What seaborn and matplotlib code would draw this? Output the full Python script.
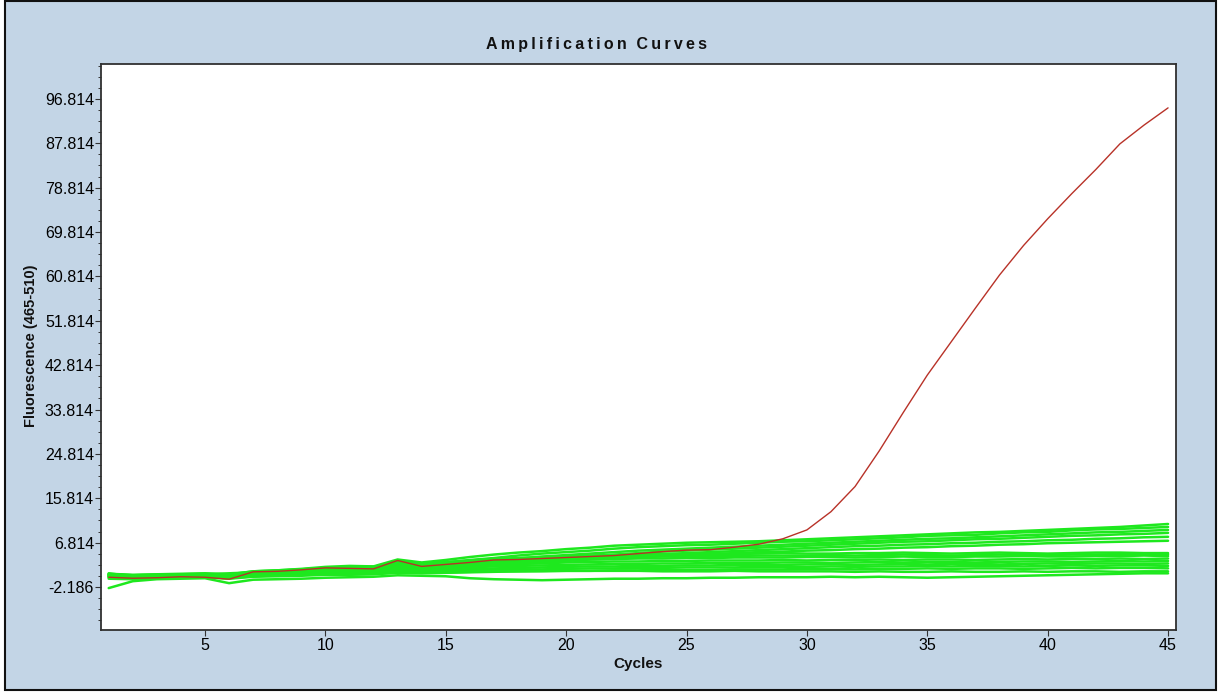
import numpy as np
import pandas as pd
import matplotlib
matplotlib.use("Agg")
import matplotlib.pyplot as plt
from matplotlib.patches import Rectangle
from matplotlib.ticker import FixedLocator
import seaborn as sns

# ---------------- data ----------------
cycles = list(range(1, 46))

red_curve = [-0.2, -0.4, -0.3, -0.1, -0.2, -0.6, 0.9, 1.0, 1.3, 1.7, 1.6, 1.5, 3.2, 2.0, 2.4,
             2.8, 3.3, 3.4, 3.6, 3.8, 4.0, 4.2, 4.6, 5.0, 5.3, 5.4, 5.9, 6.5, 7.6, 9.4,
             13.1, 18.2, 25.4, 33.2, 40.8, 47.6, 54.4, 61.1, 67.1, 72.5, 77.6, 82.5, 87.7, 91.5, 95.0]

green_U1 = [0.4, 0.2, 0.3, 0.4, 0.5, 0.3, 1.0, 1.2, 1.5, 1.9, 2.1, 2.0, 3.4, 2.8, 3.3,
            3.9, 4.4, 4.8, 5.1, 5.5, 5.8, 6.2, 6.4, 6.6, 6.8, 6.9, 7.0, 7.1, 7.3, 7.5,
            7.7, 7.9, 8.1, 8.3, 8.5, 8.7, 8.9, 9.0, 9.2, 9.4, 9.6, 9.8, 10.0, 10.3, 10.6]
green_U2 = [0.6, 0.0, 0.2, 0.3, 0.4, 0.6, 0.8, 1.1, 1.4, 1.6, 1.8, 1.9, 2.9, 2.4, 2.8,
            3.3, 3.7, 4.2, 4.6, 4.9, 5.2, 5.6, 5.9, 6.1, 6.3, 6.4, 6.6, 6.8, 7.0, 7.1,
            7.3, 7.5, 7.7, 7.9, 8.2, 8.3, 8.4, 8.7, 8.9, 9.0, 9.3, 9.5, 9.6, 9.8, 10.0]
green_U3 = [0.0, 0.1, 0.2, 0.2, 0.3, 0.1, 0.6, 0.9, 1.1, 1.4, 1.5, 1.7, 2.5, 2.2, 2.5,
            2.9, 3.3, 3.6, 4.0, 4.3, 4.6, 4.9, 5.2, 5.4, 5.6, 5.8, 6.0, 6.2, 6.4, 6.6,
            6.8, 7.0, 7.2, 7.4, 7.6, 7.7, 7.9, 8.1, 8.3, 8.5, 8.7, 8.9, 9.0, 9.2, 9.4]
green_U4 = [0.3, 0.1, 0.0, 0.2, 0.1, 0.0, 0.5, 0.7, 0.9, 1.2, 1.3, 1.4, 2.2, 1.9, 2.2,
            2.6, 2.9, 3.2, 3.5, 3.8, 4.1, 4.4, 4.7, 5.0, 5.2, 5.4, 5.6, 5.8, 6.0, 6.2,
            6.4, 6.6, 6.8, 7.0, 7.1, 7.3, 7.5, 7.6, 7.8, 8.0, 8.2, 8.3, 8.5, 8.6, 8.8]
green_U5 = [-0.2, -0.1, 0.0, 0.1, 0.0, -0.2, 0.4, 0.6, 0.8, 1.0, 1.1, 1.2, 1.9, 1.6, 1.9,
            2.2, 2.5, 2.8, 3.1, 3.4, 3.7, 4.0, 4.3, 4.5, 4.7, 4.9, 5.1, 5.3, 5.5, 5.7,
            5.9, 6.1, 6.2, 6.4, 6.5, 6.7, 6.8, 7.0, 7.1, 7.3, 7.4, 7.6, 7.7, 7.9, 8.0]
green_U6 = [0.1, -0.1, -0.2, 0.0, 0.1, -0.1, 0.3, 0.5, 0.7, 0.9, 0.9, 1.0, 1.7, 1.4, 1.6,
            1.9, 2.2, 2.5, 2.8, 3.1, 3.4, 3.6, 3.9, 4.1, 4.3, 4.5, 4.7, 4.9, 5.0, 5.2,
            5.3, 5.5, 5.6, 5.8, 5.9, 6.1, 6.2, 6.4, 6.5, 6.7, 6.8, 6.9, 7.0, 7.1, 7.2]
green_L1 = [0.5, 0.3, 0.4, 0.5, 0.6, 0.4, 1.0, 1.2, 1.4, 1.7, 1.9, 1.9, 3.0, 2.6, 2.9,
            3.2, 3.5, 3.7, 3.9, 4.1, 4.2, 4.3, 4.4, 4.5, 4.5, 4.6, 4.5, 4.6, 4.7, 4.6,
            4.6, 4.7, 4.7, 4.8, 4.7, 4.6, 4.7, 4.8, 4.7, 4.6, 4.7, 4.8, 4.8, 4.7, 4.7]
green_L2 = [0.2, 0.0, 0.1, 0.2, 0.3, 0.1, 0.7, 0.9, 1.1, 1.3, 1.5, 1.5, 2.4, 2.1, 2.3,
            2.6, 2.8, 3.0, 3.2, 3.3, 3.4, 3.5, 3.6, 3.6, 3.7, 3.7, 3.8, 3.8, 3.8, 3.9,
            3.9, 3.8, 3.9, 4.0, 3.9, 3.9, 4.0, 4.0, 4.1, 4.0, 4.0, 4.1, 4.1, 4.2, 4.1]
green_L3 = [0.0, -0.2, -0.1, 0.0, 0.1, -0.1, 0.4, 0.6, 0.8, 1.0, 1.1, 1.2, 1.9, 1.7, 1.9,
            2.1, 2.3, 2.5, 2.6, 2.8, 2.9, 3.0, 3.0, 3.1, 3.1, 3.2, 3.2, 3.2, 3.3, 3.2,
            3.3, 3.3, 3.4, 3.3, 3.4, 3.4, 3.3, 3.4, 3.5, 3.4, 3.5, 3.5, 3.6, 3.5, 3.6]
green_L4 = [0.3, 0.1, 0.0, 0.1, 0.2, 0.0, 0.3, 0.5, 0.6, 0.8, 0.9, 1.0, 1.6, 1.4, 1.6,
            1.8, 2.0, 2.1, 2.2, 2.3, 2.4, 2.5, 2.5, 2.6, 2.6, 2.7, 2.7, 2.7, 2.8, 2.8,
            2.7, 2.8, 2.9, 2.8, 2.9, 2.9, 2.8, 2.9, 3.0, 3.0, 2.9, 3.0, 3.1, 3.0, 3.1]
green_L5 = [-0.3, -0.4, -0.2, -0.1, 0.0, -0.3, 0.2, 0.3, 0.5, 0.6, 0.7, 0.8, 1.3, 1.1, 1.3,
            1.5, 1.6, 1.7, 1.8, 1.9, 2.0, 2.0, 2.1, 2.1, 2.2, 2.2, 2.3, 2.3, 2.3, 2.4,
            2.4, 2.3, 2.4, 2.5, 2.4, 2.5, 2.5, 2.4, 2.5, 2.6, 2.5, 2.6, 2.6, 2.5, 2.6]
green_L6 = [0.1, -0.1, -0.2, -0.1, -0.2, -0.4, 0.0, 0.2, 0.3, 0.5, 0.5, 0.6, 1.0, 0.9, 1.0,
            1.2, 1.3, 1.4, 1.4, 1.5, 1.6, 1.6, 1.7, 1.7, 1.8, 1.8, 1.8, 1.9, 1.9, 1.9,
            2.0, 1.9, 2.0, 2.0, 2.1, 2.0, 2.1, 2.1, 2.0, 2.1, 2.2, 2.1, 2.2, 2.2, 2.1]
green_L7 = [-0.5, -0.6, -0.4, -0.3, -0.2, -0.5, -0.1, 0.0, 0.1, 0.3, 0.3, 0.4, 0.7, 0.6, 0.7,
            0.8, 0.9, 1.0, 1.0, 1.1, 1.1, 1.2, 1.2, 1.3, 1.3, 1.3, 1.4, 1.4, 1.4, 1.5,
            1.5, 1.4, 1.5, 1.5, 1.6, 1.5, 1.6, 1.6, 1.5, 1.6, 1.7, 1.6, 1.7, 1.7, 1.6]
green_L8 = [-2.4, -1.0, -0.6, -0.5, -0.4, -1.4, -0.7, -0.6, -0.5, -0.3, -0.2, -0.1, 0.2, 0.1, 0.0,
            -0.4, -0.6, -0.7, -0.8, -0.7, -0.6, -0.5, -0.5, -0.4, -0.4, -0.3, -0.3, -0.2, -0.2, -0.2,
            -0.1, -0.2, -0.1, -0.2, -0.3, -0.2, -0.1, 0.0, 0.1, 0.2, 0.3, 0.4, 0.5, 0.6, 0.6]
green_L9 = [0.4, 0.2, 0.3, 0.4, 0.4, 0.2, 0.8, 1.0, 1.2, 1.5, 1.7, 1.7, 2.7, 2.3, 2.6,
            2.9, 3.1, 3.3, 3.5, 3.6, 3.7, 3.8, 3.9, 4.0, 4.0, 4.1, 4.1, 4.2, 4.2, 4.2,
            4.3, 4.2, 4.3, 4.4, 4.3, 4.2, 4.3, 4.4, 4.3, 4.3, 4.4, 4.4, 4.5, 4.4, 4.4]
green_L10 = [-0.1, -0.3, -0.3, -0.2, -0.1, -0.3, 0.1, 0.2, 0.3, 0.4, 0.4, 0.5, 0.8, 0.7, 0.8,
             0.9, 1.0, 1.0, 1.1, 1.1, 1.1, 1.1, 1.1, 1.0, 1.0, 1.0, 1.1, 1.0, 1.0, 1.0,
             1.0, 0.9, 1.0, 0.9, 0.9, 1.0, 0.9, 0.9, 1.0, 0.9, 1.0, 1.0, 0.9, 1.0, 1.0]

green_curves = {
    "U1": green_U1, "U2": green_U2, "U3": green_U3, "U4": green_U4,
    "U5": green_U5, "U6": green_U6, "L1": green_L1, "L2": green_L2,
    "L3": green_L3, "L4": green_L4, "L5": green_L5, "L6": green_L6,
    "L7": green_L7, "L8": green_L8, "L9": green_L9, "L10": green_L10,
}

y_tick_values = [-2.186, 6.814, 15.814, 24.814, 33.814, 42.814, 51.814,
                 60.814, 69.814, 78.814, 87.814, 96.814]
y_tick_labels = ["-2.186", "6.814", "15.814", "24.814", "33.814", "42.814", "51.814",
                 "60.814", "69.814", "78.814", "87.814", "96.814"]
x_tick_values = [5, 10, 15, 20, 25, 30, 35, 40, 45]

title_text = "Amplification Curves"
x_label = "Cycles"
y_label = "Fluorescence (465-510)"

# ---------------- frames ----------------
green_df = pd.concat(
    [pd.DataFrame({"cycle": cycles, "fluor": v, "sample": k}) for k, v in green_curves.items()],
    ignore_index=True)
red_df = pd.DataFrame({"cycle": cycles, "fluor": red_curve, "sample": "positive"})

# ---------------- style ----------------
sns.set_style("ticks")
plt.rcParams["font.family"] = ["Liberation Sans", "DejaVu Sans"]

W, H = 1222, 693
fig = plt.figure(figsize=(W / 100, H / 100), dpi=100, facecolor="white")

bg = "#c3d5e6"
fig.patches.append(Rectangle((5 / W, 1 - 690 / H), (1216 - 5) / W, (690 - 1) / H,
                             transform=fig.transFigure, facecolor=bg,
                             edgecolor="#111111", linewidth=1.5, zorder=-10))

ax = fig.add_axes([101 / W, 1 - 630 / H, (1176 - 101) / W, (630 - 64) / H])
ax.set_zorder(5)
ax.set_facecolor("white")

sns.lineplot(data=green_df, x="cycle", y="fluor", units="sample", estimator=None,
             color="#1ee81e", linewidth=1.8, ax=ax, legend=False)
sns.lineplot(data=red_df, x="cycle", y="fluor", estimator=None,
             color="#b83228", linewidth=1.0, ax=ax, legend=False, zorder=5)

ax.set_xlim(0.68, 45.33)
ax.set_ylim(-10.9, 103.9)

ax.set_xticks(x_tick_values)
ax.set_xticklabels([str(v) for v in x_tick_values])
ax.set_yticks(y_tick_values)
ax.set_yticklabels(y_tick_labels)
ax.yaxis.set_minor_locator(FixedLocator(np.arange(-2.186 - 6.75, 104, 2.25)))

ax.tick_params(axis="both", which="major", direction="out", length=4, width=0.8,
               color="#333333", labelsize=11.5, labelcolor="black")
ax.tick_params(axis="y", which="major", pad=1)
ax.tick_params(axis="x", which="major", pad=2)
ax.tick_params(axis="y", which="minor", direction="out", length=2.2, width=0.7, color="#333333")

for s in ax.spines.values():
    s.set_visible(True)
    s.set_color("#303030")
    s.set_linewidth(1.3)

ax.set_xlabel("")
ax.set_ylabel("")

spaced_title = "\u2009".join(list(title_text)).replace("\u2009 \u2009", "\u2009\u2009\u2009")
fig.text(597 / W, 1 - 44 / H, spaced_title, ha="center", va="center",
         fontsize=11.5, fontweight="bold", color="#111111",
         family=["Liberation Sans", "DejaVu Sans"])
fig.text(638 / W, 1 - 664 / H, x_label, ha="center", va="center",
         fontsize=11, fontweight="bold", color="#111111")
fig.text(31 / W, 1 - 346 / H, y_label, ha="center", va="center", rotation=90,
         fontsize=10.5, fontweight="bold", color="#111111")

fig.savefig("out.png", dpi=100, facecolor="white")
